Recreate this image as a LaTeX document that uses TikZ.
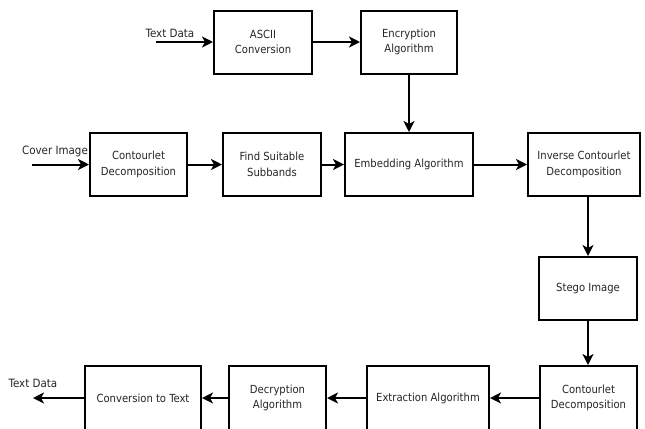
\documentclass[tikz,border=0pt]{standalone}
\usepackage{fontspec}
\setmainfont{DejaVu Sans Condensed}
\usetikzlibrary{arrows.meta}
\begin{document}
\begin{tikzpicture}[x=1bp,y=-1bp,
  box/.style={draw=black,line width=2bp,fill=white,rectangle,inner sep=0pt,
    minimum height=63bp,align=center,font=\fontsize{11.2}{15.5}\selectfont,text=black!85},
  arr/.style={line width=2bp,-{Stealth[length=11bp,width=11bp,inset=3bp]}},
  lbl/.style={font=\fontsize{11.5}{13}\selectfont,text=black!85,inner sep=0pt}]
\useasboundingbox[fill=white] (0,0) rectangle (645,428);
% top row
\node[box,minimum width=98bp] (ascii) at (263,42) {ASCII\\Conversion};
\node[box,minimum width=96bp] (enc) at (409,42) {Encryption\\Algorithm};
% middle row
\node[box,minimum width=97bp] (cd1) at (138.5,164.5) {Contourlet\\Decomposition};
\node[box,minimum width=98bp] (fss) at (272,164.5) {Find Suitable\\Subbands};
\node[box,minimum width=128bp] (emb) at (409,164.5) {Embedding Algorithm};
\node[box,minimum width=112bp] (inv) at (584,164.5) {Inverse Contourlet\\Decomposition};
% right column
\node[box,minimum width=98bp] (stego) at (588,288.5) {Stego Image};
% bottom row
\node[box,minimum width=97bp,minimum height=64bp] (cd2) at (588.5,398) {Contourlet\\Decomposition};
\node[box,minimum width=122bp,minimum height=64bp] (ext) at (428,398) {Extraction Algorithm};
\node[box,minimum width=97bp,minimum height=64bp] (dec) at (277.5,398) {Decryption\\Algorithm};
\node[box,minimum width=116bp,minimum height=64bp] (conv) at (143,398) {Conversion to Text};
% free ends and labels
\coordinate (tin) at (156,42);
\coordinate (cin) at (32,164.5);
\coordinate (tout) at (33,398);
\node[lbl] (tdin) at (170,33) {Text Data};
\node[lbl] (cimg) at (55,151) {Cover Image};
\node[lbl] (tdout) at (33,383) {Text Data};
% connectors
\draw[arr] (tin) -- (ascii.west);
\draw[arr] (ascii.east) -- (enc.west);
\draw[arr] (enc.south) -- (emb.north);
\draw[arr] (cin) -- (cd1.west);
\draw[arr] (cd1.east) -- (fss.west);
\draw[arr] (fss.east) -- (emb.west);
\draw[arr] (emb.east) -- (inv.west);
\draw[arr] (stego.north |- inv.south) -- (stego.north);
\draw[arr] (stego.south) -- (stego.south |- cd2.north);
\draw[arr] (cd2.west) -- (ext.east);
\draw[arr] (ext.west) -- (dec.east);
\draw[arr] (dec.west) -- (conv.east);
\draw[arr] (conv.west) -- (tout);
\end{tikzpicture}
\end{document}
